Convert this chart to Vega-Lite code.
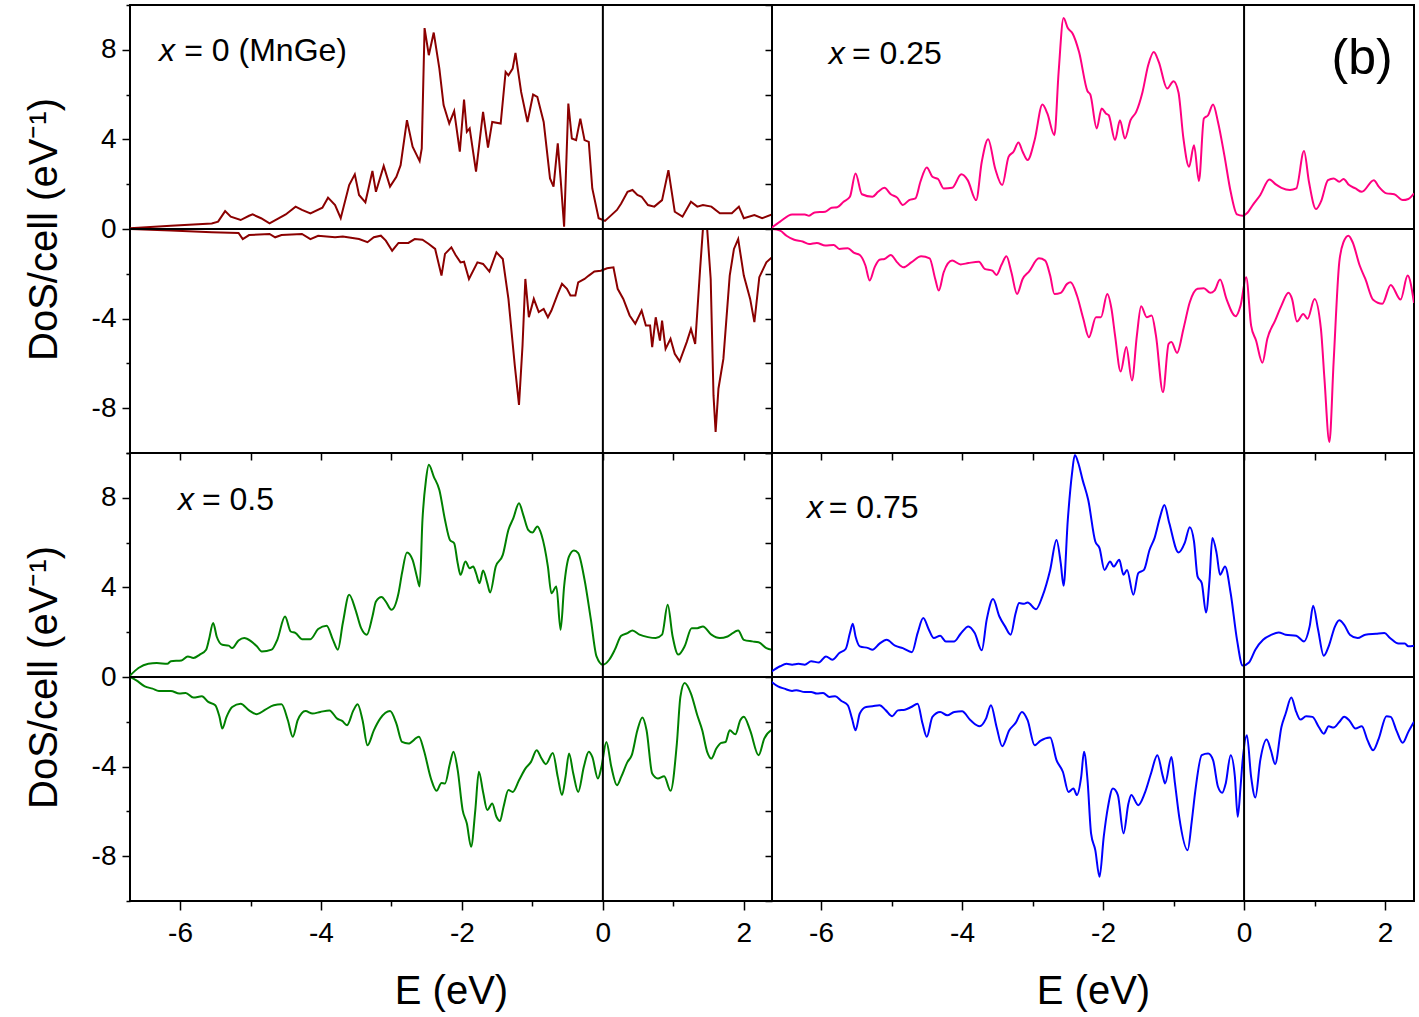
{
"$schema": "https://vega.github.io/schema/vega-lite/v6.json",
"padding": {"left": 23, "top": 3, "right": 2, "bottom": 2},
"datasets": {
"a_up": [{"E":-6.71,"v":0.03},{"E":-6.13,"v":0.15},{"E":-5.55,"v":0.25},{"E":-5.46,"v":0.33},{"E":-5.36,"v":0.8},{"E":-5.28,"v":0.55},{"E":-5.14,"v":0.4},{"E":-5.02,"v":0.59},{"E":-4.97,"v":0.65},{"E":-4.85,"v":0.48},{"E":-4.73,"v":0.25},{"E":-4.5,"v":0.65},{"E":-4.36,"v":1.0},{"E":-4.27,"v":0.85},{"E":-4.15,"v":0.7},{"E":-3.98,"v":0.95},{"E":-3.9,"v":1.4},{"E":-3.8,"v":1.07},{"E":-3.72,"v":0.48},{"E":-3.6,"v":1.96},{"E":-3.52,"v":2.44},{"E":-3.46,"v":1.52},{"E":-3.37,"v":1.19},{"E":-3.27,"v":2.59},{"E":-3.22,"v":1.66},{"E":-3.11,"v":2.81},{"E":-3.02,"v":1.89},{"E":-2.93,"v":2.33},{"E":-2.87,"v":2.85},{"E":-2.78,"v":4.86},{"E":-2.7,"v":3.67},{"E":-2.6,"v":3.03},{"E":-2.57,"v":3.6},{"E":-2.53,"v":8.97},{"E":-2.47,"v":7.76},{"E":-2.4,"v":8.77},{"E":-2.32,"v":7.16},{"E":-2.26,"v":5.53},{"E":-2.18,"v":4.71},{"E":-2.11,"v":5.26},{"E":-2.03,"v":3.45},{"E":-1.97,"v":5.78},{"E":-1.93,"v":4.34},{"E":-1.89,"v":4.49},{"E":-1.8,"v":2.56},{"E":-1.7,"v":5.23},{"E":-1.63,"v":3.63},{"E":-1.57,"v":4.78},{"E":-1.45,"v":4.71},{"E":-1.38,"v":7.01},{"E":-1.34,"v":6.86},{"E":-1.28,"v":7.16},{"E":-1.24,"v":7.86},{"E":-1.16,"v":6.12},{"E":-1.07,"v":4.78},{"E":-0.99,"v":6.0},{"E":-0.93,"v":5.9},{"E":-0.84,"v":4.78},{"E":-0.75,"v":2.26},{"E":-0.7,"v":1.89},{"E":-0.64,"v":3.82},{"E":-0.6,"v":2.26},{"E":-0.55,"v":0.1},{"E":-0.49,"v":5.6},{"E":-0.44,"v":4.04},{"E":-0.38,"v":3.97},{"E":-0.32,"v":4.93},{"E":-0.26,"v":3.97},{"E":-0.2,"v":3.89},{"E":-0.15,"v":1.81},{"E":-0.06,"v":0.48},{"E":0.03,"v":0.36},{"E":0.12,"v":0.62},{"E":0.2,"v":0.85},{"E":0.26,"v":1.14},{"E":0.35,"v":1.66},{"E":0.42,"v":1.74},{"E":0.49,"v":1.52},{"E":0.55,"v":1.44},{"E":0.64,"v":1.07},{"E":0.73,"v":1.0},{"E":0.84,"v":1.29},{"E":0.93,"v":2.63},{"E":1.02,"v":0.77},{"E":1.13,"v":0.55},{"E":1.25,"v":1.22},{"E":1.34,"v":1.0},{"E":1.42,"v":1.07},{"E":1.54,"v":1.0},{"E":1.66,"v":0.7},{"E":1.83,"v":0.7},{"E":1.93,"v":1.0},{"E":2.0,"v":0.48},{"E":2.15,"v":0.62},{"E":2.26,"v":0.48},{"E":2.4,"v":0.65}],
"a_dn": [{"E":-6.71,"v":0.0},{"E":-6.13,"v":-0.07},{"E":-5.55,"v":-0.15},{"E":-5.17,"v":-0.18},{"E":-5.11,"v":-0.45},{"E":-5.02,"v":-0.27},{"E":-4.73,"v":-0.22},{"E":-4.65,"v":-0.37},{"E":-4.56,"v":-0.27},{"E":-4.27,"v":-0.22},{"E":-4.15,"v":-0.45},{"E":-4.04,"v":-0.3},{"E":-3.8,"v":-0.37},{"E":-3.69,"v":-0.33},{"E":-3.46,"v":-0.45},{"E":-3.34,"v":-0.59},{"E":-3.25,"v":-0.37},{"E":-3.15,"v":-0.3},{"E":-3.08,"v":-0.52},{"E":-2.99,"v":-0.97},{"E":-2.9,"v":-0.62},{"E":-2.76,"v":-0.62},{"E":-2.67,"v":-0.45},{"E":-2.56,"v":-0.48},{"E":-2.47,"v":-0.67},{"E":-2.38,"v":-0.89},{"E":-2.29,"v":-2.08},{"E":-2.24,"v":-1.11},{"E":-2.15,"v":-0.82},{"E":-2.09,"v":-1.16},{"E":-2.02,"v":-1.49},{"E":-1.97,"v":-1.46},{"E":-1.9,"v":-2.23},{"E":-1.78,"v":-1.49},{"E":-1.7,"v":-1.56},{"E":-1.61,"v":-1.9},{"E":-1.51,"v":-1.04},{"E":-1.42,"v":-1.34},{"E":-1.34,"v":-3.12},{"E":-1.25,"v":-6.09},{"E":-1.19,"v":-7.85},{"E":-1.14,"v":-5.2},{"E":-1.1,"v":-2.23},{"E":-1.05,"v":-3.94},{"E":-0.98,"v":-3.12},{"E":-0.91,"v":-3.71},{"E":-0.84,"v":-3.57},{"E":-0.78,"v":-3.94},{"E":-0.73,"v":-3.64},{"E":-0.64,"v":-2.9},{"E":-0.58,"v":-2.45},{"E":-0.51,"v":-2.67},{"E":-0.46,"v":-2.97},{"E":-0.39,"v":-2.97},{"E":-0.35,"v":-2.38},{"E":-0.26,"v":-2.23},{"E":-0.2,"v":-2.08},{"E":-0.12,"v":-1.9},{"E":-0.03,"v":-1.86},{"E":0.06,"v":-1.75},{"E":0.15,"v":-1.71},{"E":0.21,"v":-2.67},{"E":0.29,"v":-3.12},{"E":0.38,"v":-3.86},{"E":0.46,"v":-4.23},{"E":0.55,"v":-3.64},{"E":0.61,"v":-4.31},{"E":0.67,"v":-4.31},{"E":0.7,"v":-5.27},{"E":0.75,"v":-3.94},{"E":0.81,"v":-4.98},{"E":0.84,"v":-4.09},{"E":0.89,"v":-5.35},{"E":0.96,"v":-4.9},{"E":1.02,"v":-5.57},{"E":1.09,"v":-5.91},{"E":1.19,"v":-5.05},{"E":1.25,"v":-4.46},{"E":1.31,"v":-5.13},{"E":1.38,"v":-1.78},{"E":1.42,"v":0.0},{"E":1.48,"v":0.0},{"E":1.53,"v":-2.23},{"E":1.57,"v":-7.43},{"E":1.6,"v":-9.06},{"E":1.64,"v":-7.13},{"E":1.71,"v":-5.8},{"E":1.8,"v":-2.08},{"E":1.86,"v":-0.89},{"E":1.92,"v":-0.45},{"E":2.0,"v":-2.08},{"E":2.09,"v":-3.12},{"E":2.15,"v":-4.16},{"E":2.22,"v":-2.15},{"E":2.32,"v":-1.49},{"E":2.4,"v":-1.26}],
"b_up": [{"E":-6.7,"v":0.06},{"E":-6.58,"v":0.33},{"E":-6.41,"v":0.65},{"E":-6.23,"v":0.65},{"E":-6.17,"v":0.59},{"E":-6.09,"v":0.74},{"E":-5.94,"v":0.77},{"E":-5.85,"v":0.95},{"E":-5.77,"v":0.97},{"E":-5.68,"v":1.22},{"E":-5.59,"v":1.44},{"E":-5.51,"v":2.48},{"E":-5.42,"v":1.55},{"E":-5.27,"v":1.44},{"E":-5.19,"v":1.66},{"E":-5.1,"v":1.84},{"E":-5.01,"v":1.55},{"E":-4.92,"v":1.4},{"E":-4.84,"v":1.07},{"E":-4.75,"v":1.29},{"E":-4.66,"v":1.37},{"E":-4.59,"v":2.11},{"E":-4.5,"v":2.75},{"E":-4.42,"v":2.33},{"E":-4.34,"v":2.23},{"E":-4.26,"v":1.81},{"E":-4.14,"v":1.84},{"E":-4.01,"v":2.44},{"E":-3.92,"v":2.18},{"E":-3.8,"v":1.29},{"E":-3.72,"v":3.0},{"E":-3.63,"v":4.01},{"E":-3.53,"v":2.7},{"E":-3.43,"v":1.96},{"E":-3.34,"v":3.22},{"E":-3.27,"v":3.45},{"E":-3.2,"v":3.86},{"E":-3.14,"v":3.45},{"E":-3.07,"v":3.08},{"E":-2.97,"v":3.97},{"E":-2.86,"v":5.56},{"E":-2.79,"v":5.16},{"E":-2.69,"v":4.19},{"E":-2.63,"v":7.01},{"E":-2.56,"v":9.42},{"E":-2.5,"v":8.97},{"E":-2.43,"v":8.72},{"E":-2.34,"v":7.9},{"E":-2.22,"v":6.15},{"E":-2.18,"v":6.0},{"E":-2.09,"v":4.49},{"E":-2.02,"v":5.38},{"E":-1.96,"v":5.16},{"E":-1.92,"v":5.08},{"E":-1.83,"v":3.97},{"E":-1.76,"v":4.86},{"E":-1.69,"v":4.04},{"E":-1.61,"v":4.86},{"E":-1.53,"v":5.23},{"E":-1.44,"v":6.12},{"E":-1.36,"v":7.31},{"E":-1.28,"v":7.9},{"E":-1.21,"v":7.46},{"E":-1.09,"v":6.27},{"E":-1.0,"v":6.6},{"E":-0.93,"v":6.09},{"E":-0.86,"v":4.04},{"E":-0.78,"v":2.78},{"E":-0.71,"v":3.74},{"E":-0.64,"v":2.14},{"E":-0.57,"v":4.93},{"E":-0.51,"v":5.08},{"E":-0.44,"v":5.56},{"E":-0.37,"v":4.78},{"E":-0.28,"v":3.3},{"E":-0.19,"v":1.66},{"E":-0.1,"v":0.65},{"E":-0.02,"v":0.59},{"E":0.04,"v":0.7},{"E":0.13,"v":1.1},{"E":0.23,"v":1.52},{"E":0.36,"v":2.21},{"E":0.45,"v":1.99},{"E":0.53,"v":1.84},{"E":0.65,"v":1.74},{"E":0.74,"v":1.81},{"E":0.85,"v":3.48},{"E":0.92,"v":2.11},{"E":1.02,"v":0.89},{"E":1.09,"v":1.22},{"E":1.19,"v":2.18},{"E":1.27,"v":2.26},{"E":1.35,"v":2.11},{"E":1.41,"v":2.23},{"E":1.49,"v":1.96},{"E":1.58,"v":1.81},{"E":1.67,"v":1.66},{"E":1.84,"v":2.18},{"E":1.91,"v":1.89},{"E":2.02,"v":1.59},{"E":2.13,"v":1.55},{"E":2.25,"v":1.29},{"E":2.33,"v":1.34},{"E":2.41,"v":1.59}],
"b_dn": [{"E":-6.7,"v":0.0},{"E":-6.58,"v":-0.07},{"E":-6.49,"v":-0.3},{"E":-6.38,"v":-0.48},{"E":-6.26,"v":-0.56},{"E":-6.17,"v":-0.67},{"E":-6.06,"v":-0.62},{"E":-5.94,"v":-0.74},{"E":-5.82,"v":-0.71},{"E":-5.74,"v":-0.89},{"E":-5.62,"v":-0.86},{"E":-5.53,"v":-1.07},{"E":-5.45,"v":-1.16},{"E":-5.37,"v":-1.63},{"E":-5.31,"v":-2.3},{"E":-5.24,"v":-1.71},{"E":-5.17,"v":-1.37},{"E":-5.1,"v":-1.34},{"E":-5.01,"v":-1.16},{"E":-4.92,"v":-1.49},{"E":-4.83,"v":-1.71},{"E":-4.72,"v":-1.49},{"E":-4.58,"v":-1.22},{"E":-4.46,"v":-1.31},{"E":-4.38,"v":-2.23},{"E":-4.33,"v":-2.75},{"E":-4.26,"v":-1.93},{"E":-4.14,"v":-1.41},{"E":-4.02,"v":-1.58},{"E":-3.91,"v":-1.52},{"E":-3.76,"v":-1.46},{"E":-3.68,"v":-1.78},{"E":-3.57,"v":-1.86},{"E":-3.51,"v":-2.05},{"E":-3.44,"v":-1.6},{"E":-3.37,"v":-1.22},{"E":-3.3,"v":-1.93},{"E":-3.22,"v":-2.9},{"E":-3.14,"v":-2.23},{"E":-3.05,"v":-1.9},{"E":-2.91,"v":-1.31},{"E":-2.82,"v":-1.41},{"E":-2.75,"v":-2.08},{"E":-2.69,"v":-2.9},{"E":-2.6,"v":-2.85},{"E":-2.51,"v":-2.45},{"E":-2.46,"v":-2.38},{"E":-2.37,"v":-2.97},{"E":-2.28,"v":-4.01},{"E":-2.2,"v":-4.83},{"E":-2.1,"v":-3.94},{"E":-2.03,"v":-3.94},{"E":-1.94,"v":-2.9},{"E":-1.88,"v":-3.57},{"E":-1.83,"v":-4.75},{"E":-1.75,"v":-6.36},{"E":-1.67,"v":-5.27},{"E":-1.59,"v":-6.76},{"E":-1.52,"v":-4.75},{"E":-1.46,"v":-3.45},{"E":-1.38,"v":-3.94},{"E":-1.31,"v":-3.86},{"E":-1.25,"v":-4.75},{"E":-1.15,"v":-7.28},{"E":-1.07,"v":-5.13},{"E":-1.03,"v":-5.05},{"E":-0.95,"v":-5.53},{"E":-0.86,"v":-4.46},{"E":-0.77,"v":-3.27},{"E":-0.66,"v":-2.67},{"E":-0.57,"v":-2.64},{"E":-0.48,"v":-2.85},{"E":-0.42,"v":-2.75},{"E":-0.34,"v":-2.26},{"E":-0.25,"v":-3.12},{"E":-0.12,"v":-3.89},{"E":-0.05,"v":-3.42},{"E":0.03,"v":-2.15},{"E":0.1,"v":-4.31},{"E":0.17,"v":-4.98},{"E":0.26,"v":-5.97},{"E":0.33,"v":-4.9},{"E":0.44,"v":-4.09},{"E":0.53,"v":-3.42},{"E":0.63,"v":-2.85},{"E":0.68,"v":-3.12},{"E":0.75,"v":-4.13},{"E":0.84,"v":-3.79},{"E":0.9,"v":-4.01},{"E":1.0,"v":-3.12},{"E":1.09,"v":-4.46},{"E":1.14,"v":-6.69},{"E":1.21,"v":-9.51},{"E":1.27,"v":-5.94},{"E":1.35,"v":-1.49},{"E":1.41,"v":-0.59},{"E":1.48,"v":-0.3},{"E":1.54,"v":-0.59},{"E":1.64,"v":-1.63},{"E":1.72,"v":-2.23},{"E":1.83,"v":-3.16},{"E":1.96,"v":-3.34},{"E":2.08,"v":-2.5},{"E":2.22,"v":-3.15},{"E":2.32,"v":-2.08},{"E":2.41,"v":-3.3}],
"c_up": [{"E":-6.71,"v":0.06},{"E":-6.59,"v":0.4},{"E":-6.45,"v":0.59},{"E":-6.33,"v":0.62},{"E":-6.18,"v":0.59},{"E":-6.13,"v":0.7},{"E":-5.98,"v":0.74},{"E":-5.89,"v":0.92},{"E":-5.81,"v":0.85},{"E":-5.72,"v":1.0},{"E":-5.63,"v":1.22},{"E":-5.59,"v":1.66},{"E":-5.53,"v":2.41},{"E":-5.48,"v":1.81},{"E":-5.4,"v":1.44},{"E":-5.31,"v":1.4},{"E":-5.26,"v":1.29},{"E":-5.17,"v":1.63},{"E":-5.09,"v":1.74},{"E":-4.99,"v":1.59},{"E":-4.91,"v":1.37},{"E":-4.84,"v":1.14},{"E":-4.7,"v":1.22},{"E":-4.62,"v":1.66},{"E":-4.51,"v":2.7},{"E":-4.43,"v":2.03},{"E":-4.36,"v":1.96},{"E":-4.27,"v":1.69},{"E":-4.15,"v":1.69},{"E":-4.04,"v":2.14},{"E":-3.92,"v":2.29},{"E":-3.83,"v":1.66},{"E":-3.76,"v":1.22},{"E":-3.69,"v":2.41},{"E":-3.6,"v":3.67},{"E":-3.51,"v":3.0},{"E":-3.43,"v":2.18},{"E":-3.35,"v":1.89},{"E":-3.27,"v":2.7},{"E":-3.22,"v":3.37},{"E":-3.14,"v":3.57},{"E":-3.08,"v":3.37},{"E":-3.0,"v":3.0},{"E":-2.9,"v":3.74},{"E":-2.85,"v":4.64},{"E":-2.78,"v":5.56},{"E":-2.7,"v":5.23},{"E":-2.64,"v":4.49},{"E":-2.6,"v":4.04},{"E":-2.56,"v":7.01},{"E":-2.51,"v":8.8},{"E":-2.47,"v":9.47},{"E":-2.4,"v":8.95},{"E":-2.32,"v":8.35},{"E":-2.24,"v":7.01},{"E":-2.17,"v":6.12},{"E":-2.11,"v":5.97},{"E":-2.06,"v":5.08},{"E":-2.02,"v":4.56},{"E":-1.95,"v":5.16},{"E":-1.89,"v":4.86},{"E":-1.84,"v":4.93},{"E":-1.8,"v":4.64},{"E":-1.75,"v":4.19},{"E":-1.7,"v":4.75},{"E":-1.64,"v":4.19},{"E":-1.6,"v":3.77},{"E":-1.52,"v":4.93},{"E":-1.42,"v":5.45},{"E":-1.34,"v":6.57},{"E":-1.27,"v":7.09},{"E":-1.19,"v":7.76},{"E":-1.13,"v":7.24},{"E":-1.06,"v":6.57},{"E":-1.0,"v":6.45},{"E":-0.93,"v":6.72},{"E":-0.87,"v":6.34},{"E":-0.78,"v":4.93},{"E":-0.73,"v":3.74},{"E":-0.66,"v":4.04},{"E":-0.6,"v":2.11},{"E":-0.55,"v":4.04},{"E":-0.48,"v":5.38},{"E":-0.41,"v":5.65},{"E":-0.35,"v":5.53},{"E":-0.26,"v":4.34},{"E":-0.17,"v":2.56},{"E":-0.09,"v":0.92},{"E":0.0,"v":0.55},{"E":0.09,"v":0.77},{"E":0.17,"v":1.22},{"E":0.26,"v":1.84},{"E":0.35,"v":1.96},{"E":0.42,"v":2.08},{"E":0.52,"v":1.89},{"E":0.64,"v":1.78},{"E":0.75,"v":1.74},{"E":0.84,"v":1.89},{"E":0.92,"v":3.22},{"E":0.99,"v":1.81},{"E":1.07,"v":1.0},{"E":1.16,"v":1.37},{"E":1.26,"v":2.18},{"E":1.34,"v":2.18},{"E":1.42,"v":2.26},{"E":1.54,"v":1.89},{"E":1.66,"v":1.74},{"E":1.77,"v":1.81},{"E":1.92,"v":2.08},{"E":2.0,"v":1.66},{"E":2.12,"v":1.59},{"E":2.21,"v":1.55},{"E":2.32,"v":1.29},{"E":2.4,"v":1.22}],
"c_dn": [{"E":-6.71,"v":0.0},{"E":-6.62,"v":-0.15},{"E":-6.5,"v":-0.42},{"E":-6.39,"v":-0.52},{"E":-6.3,"v":-0.62},{"E":-6.13,"v":-0.62},{"E":-6.01,"v":-0.74},{"E":-5.92,"v":-0.71},{"E":-5.81,"v":-0.92},{"E":-5.69,"v":-0.86},{"E":-5.6,"v":-1.11},{"E":-5.5,"v":-1.26},{"E":-5.44,"v":-1.78},{"E":-5.4,"v":-2.3},{"E":-5.34,"v":-1.78},{"E":-5.26,"v":-1.34},{"E":-5.14,"v":-1.19},{"E":-5.02,"v":-1.49},{"E":-4.91,"v":-1.66},{"E":-4.79,"v":-1.46},{"E":-4.67,"v":-1.26},{"E":-4.56,"v":-1.22},{"E":-4.47,"v":-1.93},{"E":-4.4,"v":-2.67},{"E":-4.33,"v":-1.93},{"E":-4.22,"v":-1.52},{"E":-4.12,"v":-1.63},{"E":-4.01,"v":-1.56},{"E":-3.88,"v":-1.49},{"E":-3.77,"v":-1.86},{"E":-3.7,"v":-1.96},{"E":-3.63,"v":-2.15},{"E":-3.54,"v":-1.49},{"E":-3.48,"v":-1.22},{"E":-3.41,"v":-1.93},{"E":-3.34,"v":-3.05},{"E":-3.25,"v":-2.38},{"E":-3.16,"v":-1.86},{"E":-3.02,"v":-1.52},{"E":-2.93,"v":-2.08},{"E":-2.85,"v":-2.9},{"E":-2.76,"v":-2.97},{"E":-2.61,"v":-2.67},{"E":-2.54,"v":-3.27},{"E":-2.44,"v":-4.53},{"E":-2.36,"v":-5.08},{"E":-2.29,"v":-4.73},{"E":-2.24,"v":-4.75},{"E":-2.17,"v":-3.86},{"E":-2.12,"v":-3.34},{"E":-2.06,"v":-4.16},{"E":-1.99,"v":-5.94},{"E":-1.93,"v":-6.54},{"E":-1.87,"v":-7.58},{"E":-1.81,"v":-5.94},{"E":-1.76,"v":-4.23},{"E":-1.7,"v":-5.13},{"E":-1.64,"v":-5.94},{"E":-1.57,"v":-5.65},{"E":-1.51,"v":-6.24},{"E":-1.46,"v":-6.43},{"E":-1.41,"v":-5.8},{"E":-1.34,"v":-5.05},{"E":-1.28,"v":-5.13},{"E":-1.19,"v":-4.61},{"E":-1.1,"v":-4.09},{"E":-1.02,"v":-3.79},{"E":-0.94,"v":-3.27},{"E":-0.87,"v":-3.64},{"E":-0.81,"v":-3.89},{"E":-0.71,"v":-3.39},{"E":-0.64,"v":-4.46},{"E":-0.58,"v":-5.27},{"E":-0.53,"v":-4.46},{"E":-0.48,"v":-3.42},{"E":-0.42,"v":-4.31},{"E":-0.35,"v":-5.13},{"E":-0.27,"v":-4.01},{"E":-0.2,"v":-3.34},{"E":-0.15,"v":-3.57},{"E":-0.07,"v":-4.53},{"E":-0.02,"v":-4.01},{"E":0.05,"v":-2.9},{"E":0.12,"v":-4.01},{"E":0.2,"v":-4.83},{"E":0.26,"v":-4.46},{"E":0.35,"v":-3.79},{"E":0.41,"v":-3.49},{"E":0.49,"v":-2.38},{"E":0.56,"v":-1.81},{"E":0.62,"v":-2.38},{"E":0.7,"v":-4.31},{"E":0.78,"v":-4.53},{"E":0.87,"v":-4.43},{"E":0.96,"v":-5.08},{"E":1.05,"v":-2.97},{"E":1.1,"v":-0.89},{"E":1.16,"v":-0.27},{"E":1.25,"v":-0.74},{"E":1.34,"v":-1.71},{"E":1.41,"v":-2.38},{"E":1.48,"v":-3.34},{"E":1.54,"v":-3.64},{"E":1.61,"v":-3.19},{"E":1.68,"v":-2.94},{"E":1.74,"v":-2.9},{"E":1.8,"v":-2.38},{"E":1.88,"v":-2.56},{"E":1.95,"v":-1.93},{"E":2.0,"v":-1.78},{"E":2.09,"v":-2.38},{"E":2.21,"v":-3.49},{"E":2.29,"v":-2.75},{"E":2.4,"v":-2.35}],
"d_up": [{"E":-6.7,"v":0.25},{"E":-6.58,"v":0.48},{"E":-6.49,"v":0.59},{"E":-6.41,"v":0.55},{"E":-6.32,"v":0.59},{"E":-6.23,"v":0.55},{"E":-6.14,"v":0.7},{"E":-6.03,"v":0.65},{"E":-5.93,"v":0.92},{"E":-5.84,"v":0.77},{"E":-5.74,"v":1.07},{"E":-5.65,"v":1.25},{"E":-5.59,"v":1.96},{"E":-5.55,"v":2.38},{"E":-5.51,"v":1.81},{"E":-5.45,"v":1.37},{"E":-5.33,"v":1.29},{"E":-5.27,"v":1.22},{"E":-5.17,"v":1.49},{"E":-5.07,"v":1.66},{"E":-4.95,"v":1.4},{"E":-4.84,"v":1.29},{"E":-4.71,"v":1.11},{"E":-4.63,"v":1.96},{"E":-4.55,"v":2.63},{"E":-4.47,"v":2.11},{"E":-4.4,"v":1.74},{"E":-4.31,"v":1.84},{"E":-4.23,"v":1.59},{"E":-4.11,"v":1.59},{"E":-4.02,"v":1.93},{"E":-3.91,"v":2.26},{"E":-3.82,"v":1.96},{"E":-3.72,"v":1.19},{"E":-3.65,"v":2.56},{"E":-3.56,"v":3.48},{"E":-3.47,"v":2.7},{"E":-3.39,"v":2.26},{"E":-3.31,"v":1.89},{"E":-3.24,"v":2.85},{"E":-3.19,"v":3.3},{"E":-3.12,"v":3.27},{"E":-3.07,"v":3.33},{"E":-2.95,"v":3.03},{"E":-2.86,"v":3.6},{"E":-2.75,"v":4.78},{"E":-2.66,"v":6.12},{"E":-2.6,"v":5.08},{"E":-2.56,"v":4.07},{"E":-2.5,"v":7.01},{"E":-2.44,"v":9.09},{"E":-2.4,"v":9.91},{"E":-2.35,"v":9.54},{"E":-2.29,"v":8.8},{"E":-2.21,"v":7.9},{"E":-2.11,"v":6.05},{"E":-2.05,"v":5.75},{"E":-1.98,"v":4.78},{"E":-1.9,"v":5.16},{"E":-1.85,"v":4.93},{"E":-1.77,"v":5.23},{"E":-1.71,"v":4.56},{"E":-1.66,"v":4.78},{"E":-1.57,"v":3.67},{"E":-1.5,"v":4.64},{"E":-1.42,"v":4.78},{"E":-1.34,"v":5.68},{"E":-1.27,"v":6.2},{"E":-1.19,"v":7.16},{"E":-1.13,"v":7.68},{"E":-1.06,"v":6.86},{"E":-0.93,"v":5.56},{"E":-0.84,"v":6.0},{"E":-0.77,"v":6.69},{"E":-0.71,"v":6.05},{"E":-0.66,"v":4.49},{"E":-0.6,"v":4.19},{"E":-0.54,"v":2.88},{"E":-0.49,"v":4.34},{"E":-0.45,"v":6.2},{"E":-0.39,"v":5.53},{"E":-0.34,"v":4.56},{"E":-0.27,"v":4.93},{"E":-0.19,"v":3.74},{"E":-0.1,"v":1.66},{"E":-0.02,"v":0.51},{"E":0.07,"v":0.65},{"E":0.16,"v":1.22},{"E":0.27,"v":1.66},{"E":0.39,"v":1.89},{"E":0.49,"v":1.99},{"E":0.59,"v":1.89},{"E":0.74,"v":1.84},{"E":0.85,"v":1.59},{"E":0.93,"v":2.26},{"E":0.98,"v":3.18},{"E":1.05,"v":2.11},{"E":1.13,"v":0.95},{"E":1.2,"v":1.37},{"E":1.29,"v":2.26},{"E":1.35,"v":2.53},{"E":1.42,"v":2.33},{"E":1.5,"v":1.89},{"E":1.61,"v":1.74},{"E":1.72,"v":1.89},{"E":1.87,"v":1.93},{"E":1.99,"v":1.96},{"E":2.07,"v":1.74},{"E":2.19,"v":1.49},{"E":2.28,"v":1.49},{"E":2.33,"v":1.37},{"E":2.41,"v":1.4}],
"d_dn": [{"E":-6.7,"v":-0.22},{"E":-6.61,"v":-0.42},{"E":-6.52,"v":-0.52},{"E":-6.41,"v":-0.62},{"E":-6.35,"v":-0.59},{"E":-6.23,"v":-0.67},{"E":-6.14,"v":-0.67},{"E":-6.06,"v":-0.74},{"E":-5.97,"v":-0.71},{"E":-5.88,"v":-0.89},{"E":-5.8,"v":-0.86},{"E":-5.71,"v":-1.07},{"E":-5.62,"v":-1.26},{"E":-5.56,"v":-1.86},{"E":-5.51,"v":-2.38},{"E":-5.45,"v":-1.63},{"E":-5.36,"v":-1.34},{"E":-5.27,"v":-1.31},{"E":-5.17,"v":-1.26},{"E":-5.08,"v":-1.49},{"E":-4.99,"v":-1.75},{"E":-4.91,"v":-1.49},{"E":-4.81,"v":-1.46},{"E":-4.72,"v":-1.34},{"E":-4.63,"v":-1.19},{"E":-4.56,"v":-2.08},{"E":-4.5,"v":-2.67},{"E":-4.42,"v":-1.78},{"E":-4.31,"v":-1.56},{"E":-4.21,"v":-1.71},{"E":-4.11,"v":-1.56},{"E":-4.0,"v":-1.53},{"E":-3.88,"v":-1.93},{"E":-3.75,"v":-2.2},{"E":-3.66,"v":-1.86},{"E":-3.59,"v":-1.26},{"E":-3.51,"v":-2.23},{"E":-3.43,"v":-3.09},{"E":-3.33,"v":-2.38},{"E":-3.24,"v":-2.05},{"E":-3.15,"v":-1.56},{"E":-3.07,"v":-1.93},{"E":-2.97,"v":-3.05},{"E":-2.89,"v":-2.85},{"E":-2.75,"v":-2.7},{"E":-2.66,"v":-3.71},{"E":-2.57,"v":-4.23},{"E":-2.49,"v":-5.13},{"E":-2.42,"v":-4.98},{"E":-2.37,"v":-5.27},{"E":-2.31,"v":-4.46},{"E":-2.27,"v":-3.34},{"E":-2.22,"v":-4.61},{"E":-2.17,"v":-6.98},{"E":-2.11,"v":-7.73},{"E":-2.05,"v":-8.92},{"E":-1.99,"v":-7.13},{"E":-1.93,"v":-5.8},{"E":-1.86,"v":-4.98},{"E":-1.79,"v":-5.27},{"E":-1.71,"v":-6.98},{"E":-1.64,"v":-5.65},{"E":-1.6,"v":-5.27},{"E":-1.5,"v":-5.72},{"E":-1.41,"v":-5.2},{"E":-1.32,"v":-4.31},{"E":-1.23,"v":-3.49},{"E":-1.15,"v":-4.46},{"E":-1.12,"v":-4.75},{"E":-1.03,"v":-3.57},{"E":-0.98,"v":-4.75},{"E":-0.92,"v":-6.24},{"E":-0.8,"v":-7.73},{"E":-0.74,"v":-6.39},{"E":-0.69,"v":-5.05},{"E":-0.6,"v":-3.49},{"E":-0.51,"v":-3.42},{"E":-0.44,"v":-3.71},{"E":-0.37,"v":-4.9},{"E":-0.31,"v":-5.17},{"E":-0.26,"v":-4.75},{"E":-0.19,"v":-3.49},{"E":-0.13,"v":-4.46},{"E":-0.09,"v":-6.24},{"E":-0.05,"v":-4.9},{"E":-0.02,"v":-3.71},{"E":0.04,"v":-2.6},{"E":0.1,"v":-4.46},{"E":0.16,"v":-5.38},{"E":0.23,"v":-3.71},{"E":0.32,"v":-2.79},{"E":0.38,"v":-3.27},{"E":0.44,"v":-3.89},{"E":0.53,"v":-2.23},{"E":0.59,"v":-1.63},{"E":0.67,"v":-0.92},{"E":0.74,"v":-1.56},{"E":0.8,"v":-1.9},{"E":0.88,"v":-1.75},{"E":0.97,"v":-1.78},{"E":1.06,"v":-2.23},{"E":1.13,"v":-2.53},{"E":1.2,"v":-2.2},{"E":1.27,"v":-2.26},{"E":1.35,"v":-2.01},{"E":1.42,"v":-1.78},{"E":1.49,"v":-1.93},{"E":1.58,"v":-2.3},{"E":1.67,"v":-2.2},{"E":1.75,"v":-2.82},{"E":1.83,"v":-3.27},{"E":1.91,"v":-2.75},{"E":2.02,"v":-1.75},{"E":2.08,"v":-1.78},{"E":2.16,"v":-2.38},{"E":2.25,"v":-2.94},{"E":2.33,"v":-2.45},{"E":2.41,"v":-2.0}]
},
"concat": [
  {"width": 642, "height": 448, "layer": [
   {"data": {"name": "a_dn"}, "mark": {"type": "line", "color": "#8B0000", "strokeWidth": 2, "clip": true},
    "encoding": {
     "x": {"field": "E", "type": "quantitative", "scale": {"domain": [-6.71, 2.4], "nice": false, "zero": false},
      "axis": {"orient": "bottom", "values": [-6,-5,-4,-3,-2,-1,0,1,2], "labels": false, "tickSize": 7, "title": null}},
     "y": {"field": "v", "type": "quantitative", "scale": {"domain": [-10, 10], "nice": false},
      "axis": {"orient": "left", "values": [-10,-8,-6,-4,-2,0,2,4,6,8,10], "labelExpr": "(datum.value % 4 === 0 && abs(datum.value) < 10) ? toString(datum.value) : ''", "tickSize": {"condition": {"test": "datum.value % 4 === 0 && abs(datum.value) < 10", "value": 8}, "value": 4}, "labelPadding": 6, "title": "DoS/cell (eV⁻¹)", "titlePadding": 27}}}},
   {"data": {"name": "a_up"}, "mark": {"type": "line", "color": "#8B0000", "strokeWidth": 2, "clip": true},
    "encoding": {"x": {"field": "E", "type": "quantitative"}, "y": {"field": "v", "type": "quantitative"}}},
   {"data": {"values": [{}]}, "mark": {"type": "rule", "color": "black", "strokeWidth": 2}, "encoding": {"x": {"datum": 0}}},
   {"data": {"values": [{}]}, "mark": {"type": "rule", "color": "black", "strokeWidth": 2}, "encoding": {"y": {"datum": 0}}},
   {"data": {"values": [{}]}, "mark": {"type": "text", "font": "Liberation Sans", "fontSize": 32, "fontStyle": "italic", "align": "left", "baseline": "alphabetic", "color": "black"},
    "encoding": {"x": {"datum": -6.3}, "y": {"datum": 7.51}, "text": {"value": "x"}}},
   {"data": {"values": [{}]}, "mark": {"type": "text", "font": "Liberation Sans", "fontSize": 32, "align": "left", "baseline": "alphabetic", "color": "black"},
    "encoding": {"x": {"datum": -5.94}, "y": {"datum": 7.51}, "text": {"value": "= 0 (MnGe)"}}}
  ]},
  {"width": 642, "height": 448, "layer": [
   {"data": {"name": "b_dn"}, "mark": {"type": "line", "color": "#FF0080", "strokeWidth": 2, "clip": true, "interpolate": "monotone"},
    "encoding": {
     "x": {"field": "E", "type": "quantitative", "scale": {"domain": [-6.695, 2.41], "nice": false, "zero": false},
      "axis": {"orient": "bottom", "values": [-6,-5,-4,-3,-2,-1,0,1,2], "labels": false, "tickSize": 7, "title": null}},
     "y": {"field": "v", "type": "quantitative", "scale": {"domain": [-10, 10], "nice": false},
      "axis": {"orient": "left", "values": [-10,-8,-6,-4,-2,0,2,4,6,8,10], "labels": false, "tickSize": 7, "title": null}}}},
   {"data": {"name": "b_up"}, "mark": {"type": "line", "color": "#FF0080", "strokeWidth": 2, "clip": true, "interpolate": "monotone"},
    "encoding": {"x": {"field": "E", "type": "quantitative"}, "y": {"field": "v", "type": "quantitative"}}},
   {"data": {"values": [{}]}, "mark": {"type": "rule", "color": "black", "strokeWidth": 2}, "encoding": {"x": {"datum": 0}}},
   {"data": {"values": [{}]}, "mark": {"type": "rule", "color": "black", "strokeWidth": 2}, "encoding": {"y": {"datum": 0}}},
   {"data": {"values": [{}]}, "mark": {"type": "text", "font": "Liberation Sans", "fontSize": 32, "fontStyle": "italic", "align": "left", "baseline": "alphabetic", "color": "black"},
    "encoding": {"x": {"datum": -5.89}, "y": {"datum": 7.38}, "text": {"value": "x"}}},
   {"data": {"values": [{}]}, "mark": {"type": "text", "font": "Liberation Sans", "fontSize": 32, "align": "left", "baseline": "alphabetic", "color": "black"},
    "encoding": {"x": {"datum": -5.56}, "y": {"datum": 7.38}, "text": {"value": "= 0.25"}}},
   {"data": {"values": [{}]}, "mark": {"type": "text", "font": "Liberation Sans", "fontSize": 50, "align": "left", "baseline": "alphabetic", "color": "black"},
    "encoding": {"x": {"datum": 1.24}, "y": {"datum": 6.9}, "text": {"value": "(b)"}}}
  ]},
  {"width": 642, "height": 448, "layer": [
   {"data": {"name": "c_dn"}, "mark": {"type": "line", "color": "#008000", "strokeWidth": 2, "clip": true, "interpolate": "monotone"},
    "encoding": {
     "x": {"field": "E", "type": "quantitative", "scale": {"domain": [-6.71, 2.4], "nice": false, "zero": false},
      "axis": {"orient": "bottom", "values": [-6,-5,-4,-3,-2,-1,0,1,2], "labelExpr": "datum.value % 2 === 0 ? toString(datum.value) : ''", "tickSize": {"condition": {"test": "datum.value % 2 === 0", "value": 9}, "value": 5}, "labelPadding": 9, "title": "E (eV)", "titlePadding": 24}},
     "y": {"field": "v", "type": "quantitative", "scale": {"domain": [-10, 10], "nice": false},
      "axis": {"orient": "left", "values": [-10,-8,-6,-4,-2,0,2,4,6,8,10], "labelExpr": "(datum.value % 4 === 0 && abs(datum.value) < 10) ? toString(datum.value) : ''", "tickSize": {"condition": {"test": "datum.value % 4 === 0 && abs(datum.value) < 10", "value": 8}, "value": 4}, "labelPadding": 6, "title": "DoS/cell (eV⁻¹)", "titlePadding": 27}}}},
   {"data": {"name": "c_up"}, "mark": {"type": "line", "color": "#008000", "strokeWidth": 2, "clip": true, "interpolate": "monotone"},
    "encoding": {"x": {"field": "E", "type": "quantitative"}, "y": {"field": "v", "type": "quantitative"}}},
   {"data": {"values": [{}]}, "mark": {"type": "rule", "color": "black", "strokeWidth": 2}, "encoding": {"x": {"datum": 0}}},
   {"data": {"values": [{}]}, "mark": {"type": "rule", "color": "black", "strokeWidth": 2}, "encoding": {"y": {"datum": 0}}},
   {"data": {"values": [{}]}, "mark": {"type": "text", "font": "Liberation Sans", "fontSize": 32, "fontStyle": "italic", "align": "left", "baseline": "alphabetic", "color": "black"},
    "encoding": {"x": {"datum": -6.03}, "y": {"datum": 7.46}, "text": {"value": "x"}}},
   {"data": {"values": [{}]}, "mark": {"type": "text", "font": "Liberation Sans", "fontSize": 32, "align": "left", "baseline": "alphabetic", "color": "black"},
    "encoding": {"x": {"datum": -5.69}, "y": {"datum": 7.46}, "text": {"value": "= 0.5"}}}
  ]},
  {"width": 642, "height": 448, "layer": [
   {"data": {"name": "d_dn"}, "mark": {"type": "line", "color": "#0000FF", "strokeWidth": 2, "clip": true, "interpolate": "monotone"},
    "encoding": {
     "x": {"field": "E", "type": "quantitative", "scale": {"domain": [-6.695, 2.41], "nice": false, "zero": false},
      "axis": {"orient": "bottom", "values": [-6,-5,-4,-3,-2,-1,0,1,2], "labelExpr": "datum.value % 2 === 0 ? toString(datum.value) : ''", "tickSize": {"condition": {"test": "datum.value % 2 === 0", "value": 9}, "value": 5}, "labelPadding": 9, "title": "E (eV)", "titlePadding": 24}},
     "y": {"field": "v", "type": "quantitative", "scale": {"domain": [-10, 10], "nice": false},
      "axis": {"orient": "left", "values": [-10,-8,-6,-4,-2,0,2,4,6,8,10], "labels": false, "tickSize": 7, "title": null}}}},
   {"data": {"name": "d_up"}, "mark": {"type": "line", "color": "#0000FF", "strokeWidth": 2, "clip": true, "interpolate": "monotone"},
    "encoding": {"x": {"field": "E", "type": "quantitative"}, "y": {"field": "v", "type": "quantitative"}}},
   {"data": {"values": [{}]}, "mark": {"type": "rule", "color": "black", "strokeWidth": 2}, "encoding": {"x": {"datum": 0}}},
   {"data": {"values": [{}]}, "mark": {"type": "rule", "color": "black", "strokeWidth": 2}, "encoding": {"y": {"datum": 0}}},
   {"data": {"values": [{}]}, "mark": {"type": "text", "font": "Liberation Sans", "fontSize": 32, "fontStyle": "italic", "align": "left", "baseline": "alphabetic", "color": "black"},
    "encoding": {"x": {"datum": -6.2}, "y": {"datum": 7.1}, "text": {"value": "x"}}},
   {"data": {"values": [{}]}, "mark": {"type": "text", "font": "Liberation Sans", "fontSize": 32, "align": "left", "baseline": "alphabetic", "color": "black"},
    "encoding": {"x": {"datum": -5.89}, "y": {"datum": 7.1}, "text": {"value": "= 0.75"}}}
  ]}
],
"columns": 2,
"spacing": 0,
"bounds": "flush",
"config": {
 "view": {"stroke": "black", "strokeWidth": 2},
 "axis": {"domain": false, "grid": false, "tickColor": "black", "tickWidth": 1.5, "labelFont": "Liberation Sans", "labelFontSize": 28, "labelColor": "black", "titleFont": "Liberation Sans", "titleFontSize": 40, "titleFontWeight": "normal", "titleColor": "black"}
}
}
